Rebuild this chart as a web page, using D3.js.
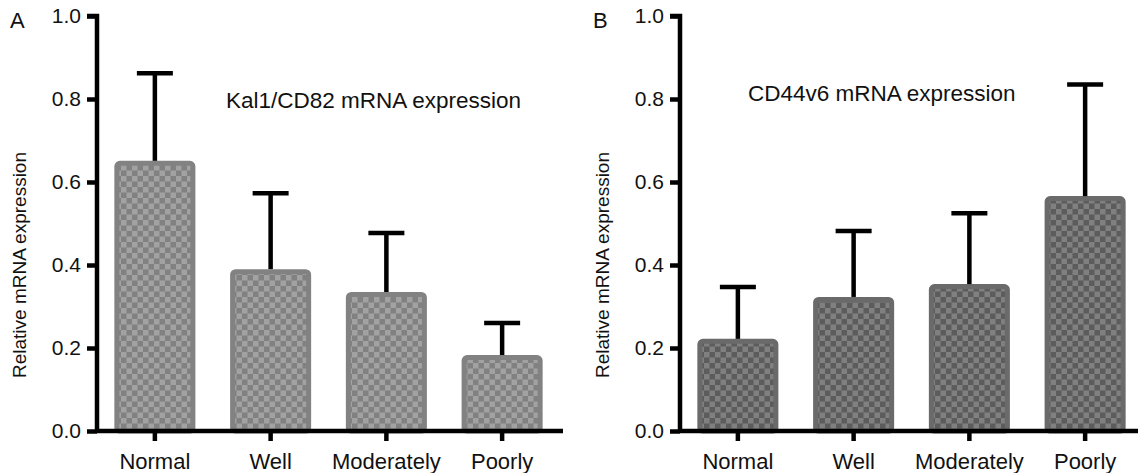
<!DOCTYPE html>
<html>
<head>
<meta charset="utf-8">
<script src="https://cdn.jsdelivr.net/npm/d3@7"></script>
<style>
  body { margin: 0; background: #fff; }
  svg text { font-family: "Liberation Sans", Arial, sans-serif; fill: #111; }
</style>
</head>
<body>
<div id="chart"></div>
<script>
const categories = ["Normal", "Well", "Moderately", "Poorly"];
const kaiMeans = [0.651, 0.39, 0.335, 0.183];
const kaiErrTops = [0.862, 0.573, 0.477, 0.26];
const cdMeans = [0.222, 0.323, 0.354, 0.566];
const cdErrTops = [0.347, 0.482, 0.525, 0.835];
const yTicks = [0.0, 0.2, 0.4, 0.6, 0.8, 1.0];

const svg = d3.select("#chart").append("svg")
    .attr("width", 1138)
    .attr("height", 473);

const defs = svg.append("defs");

function checker(id, light, dark) {
    const p = defs.append("pattern")
        .attr("id", id)
        .attr("patternUnits", "userSpaceOnUse")
        .attr("width", 11)
        .attr("height", 11);
    p.append("rect").attr("width", 11).attr("height", 11).attr("fill", dark);
    p.append("rect").attr("width", 5.5).attr("height", 5.5).attr("fill", light);
    p.append("rect").attr("x", 5.5).attr("y", 5.5).attr("width", 5.5).attr("height", 5.5).attr("fill", light);
}
checker("chkA", "#a2a2a2", "#818181");
checker("chkB", "#808080", "#5c5c5c");

function drawPanel(opts) {
    const y = d3.scaleLinear().domain([0, 1]).range([431, 16]);
    const x = d3.scaleBand().domain(categories)
        .range([opts.x0, opts.x0 + 463])
        .paddingInner(0.3).paddingOuter(0.15);

    const g = svg.append("g");

    // bars
    g.selectAll("rect.bar")
        .data(categories)
        .enter()
        .append("rect")
        .attr("class", "bar")
        .attr("x", d => x(d) + 2.5)
        .attr("width", x.bandwidth() - 5)
        .attr("y", (d, i) => y(opts.means[i]) + 2.5)
        .attr("height", (d, i) => y(0) - y(opts.means[i]) - 2.5)
        .attr("rx", 3)
        .attr("fill", "url(#" + opts.pattern + ")")
        .attr("stroke", opts.border)
        .attr("stroke-width", 5);

    // error bars
    const err = g.append("g").attr("stroke", "#000").attr("stroke-width", 4.5);
    err.selectAll("line.v")
        .data(categories)
        .enter()
        .append("line")
        .attr("x1", d => x(d) + x.bandwidth() / 2)
        .attr("x2", d => x(d) + x.bandwidth() / 2)
        .attr("y1", (d, i) => y(opts.means[i]))
        .attr("y2", (d, i) => y(opts.errTops[i]));
    err.selectAll("line.cap")
        .data(categories)
        .enter()
        .append("line")
        .attr("x1", d => x(d) + x.bandwidth() / 2 - 18)
        .attr("x2", d => x(d) + x.bandwidth() / 2 + 18)
        .attr("y1", (d, i) => y(opts.errTops[i]))
        .attr("y2", (d, i) => y(opts.errTops[i]));

    // y axis
    const ya = g.append("g")
        .attr("transform", `translate(${opts.x0},0)`)
        .call(d3.axisLeft(y).tickValues(yTicks).tickFormat(d3.format(".1f")).tickSize(10).tickPadding(6));
    ya.select(".domain").style("stroke-width", "4.5px").style("stroke", "#000")
        .attr("d", `M-10,${y(1)}H0V${y(0)}`);
    ya.selectAll(".tick line").style("stroke-width", "4.5px").style("stroke", "#000");
    ya.selectAll(".tick text").attr("font-size", 21).attr("fill", "#111")
        .style("font-family", "Liberation Sans, Arial, sans-serif");

    // x axis
    const xa = g.append("g")
        .attr("transform", `translate(0,${y(0)})`)
        .call(d3.axisBottom(x).tickSize(10).tickPadding(12));
    xa.select(".domain").style("stroke-width", "4.5px").style("stroke", "#000")
        .attr("d", `M${opts.x0},0H${opts.x0 + 466}`);
    xa.selectAll(".tick line").style("stroke-width", "4.5px").style("stroke", "#000");
    xa.selectAll(".tick text").attr("font-size", 22).attr("fill", "#111")
        .style("font-family", "Liberation Sans, Arial, sans-serif");

    // y title
    g.append("text")
        .attr("transform", `translate(${opts.x0 - 71},${y(0.4)}) rotate(-90)`)
        .attr("text-anchor", "middle")
        .attr("font-size", 19)
        .text("Relative mRNA expression");

    // panel letter
    g.append("text")
        .attr("x", opts.x0 - 87)
        .attr("y", 28)
        .attr("font-size", 22)
        .text(opts.letter);

    // inner title
    g.append("text")
        .attr("x", opts.titleX)
        .attr("y", opts.titleY)
        .attr("font-size", 22.5)
        .text(opts.title);
}

drawPanel({
    x0: 97, means: kaiMeans, errTops: kaiErrTops, pattern: "chkA", border: "#828282",
    letter: "A", title: "Kal1/CD82 mRNA expression", titleX: 226, titleY: 108
});
drawPanel({
    x0: 680, means: cdMeans, errTops: cdErrTops, pattern: "chkB", border: "#6a6a6a",
    letter: "B", title: "CD44v6 mRNA expression", titleX: 748, titleY: 101
});
</script>
</body>
</html>
